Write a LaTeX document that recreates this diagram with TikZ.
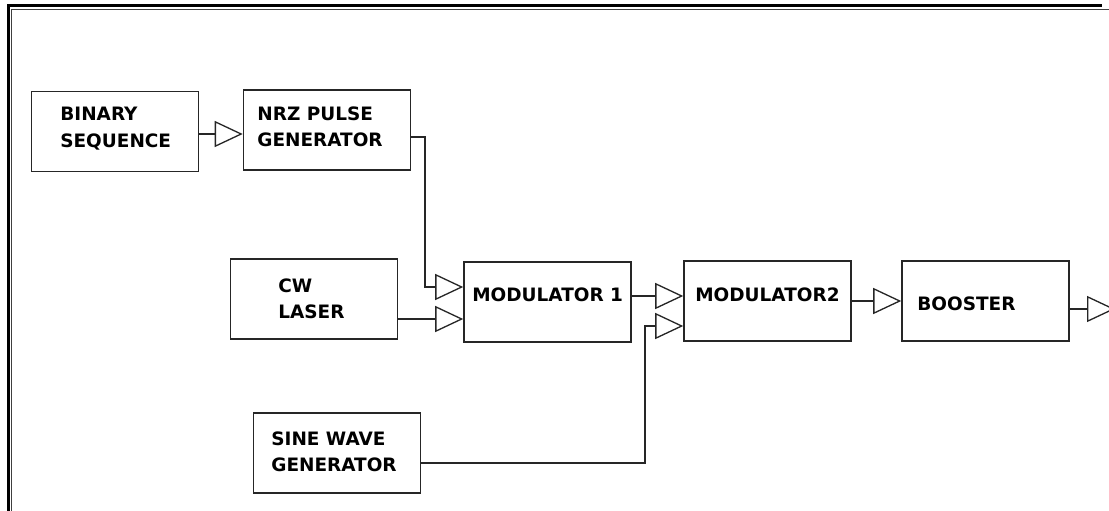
\documentclass[tikz,border=0pt]{standalone}
\usepackage{fontspec}
\setmainfont{DejaVu Sans}
\usetikzlibrary{arrows.meta, calc}

\tikzset{
  block/.style={draw=black!85, line width=0.9pt, minimum width=33.4mm,
                minimum height=16mm, inner sep=0pt},
  txt/.style={anchor=north west, inner sep=0pt, align=left,
              font=\bfseries\fontsize{10.5pt}{15pt}\selectfont},
  sig/.style={draw=black!85, line width=0.75pt,
              -{Triangle[open, length=5.6mm, width=5.2mm]}}
}

\begin{document}
\begin{tikzpicture}[x=0.2mm, y=-0.2mm]
  \useasboundingbox (0,0) rectangle (1109,510);
  % frame
  \draw[line width=0.6mm] (8,515) -- (8,5.5) -- (1102,5.5);
  \draw[black!75, line width=0.35mm] (11.5,515) -- (11.5,9.5) -- (1115,9.5);

  % blocks
  \node[block] (bin)   at (115,131.5) {};
  \node[block] (nrz)   at (327,130)   {};
  \node[block] (cw)    at (314,299)   {};
  \node[block] (mod1)  at (547.5,302) {};
  \node[block] (mod2)  at (767.5,301) {};
  \node[block] (boost) at (985.5,301) {};
  \node[block] (sine)  at (337,453)   {};

  % labels
  \node[txt] (binT)   at (60,107)  {BINARY\\SEQUENCE};
  \node[txt] (nrzT)   at (257,106) {NRZ PULSE\\GENERATOR};
  \node[txt] (cwT)    at (278,278) {CW\\LASER};
  \node[txt] (mod1T)  at (472,287) {MODULATOR 1};
  \node[txt] (mod2T)  at (695,287) {MODULATOR2};
  \node[txt] (boostT) at (917,296) {BOOSTER};
  \node[txt] (sineT)  at (271,431) {SINE WAVE\\GENERATOR};

  % signals
  \coordinate (out) at (1115,309);
  \draw[sig] (bin.east |- 0,134) -- (nrz.west |- 0,134);
  \draw[sig] (nrz.east |- 0,137) -| (425,287) -- (mod1.west |- 0,287);
  \draw[sig] (cw.east |- 0,319) -- (mod1.west |- 0,319);
  \draw[sig] (mod1.east |- 0,296) -- (mod2.west |- 0,296);
  \draw[sig] (sine.east |- 0,463) -| (645,326) -- (mod2.west |- 0,326);
  \draw[sig] (mod2.east |- 0,301) -- (boost.west |- 0,301);
  \draw[sig] (boost.east |- out) -- (out);
\end{tikzpicture}
\end{document}
